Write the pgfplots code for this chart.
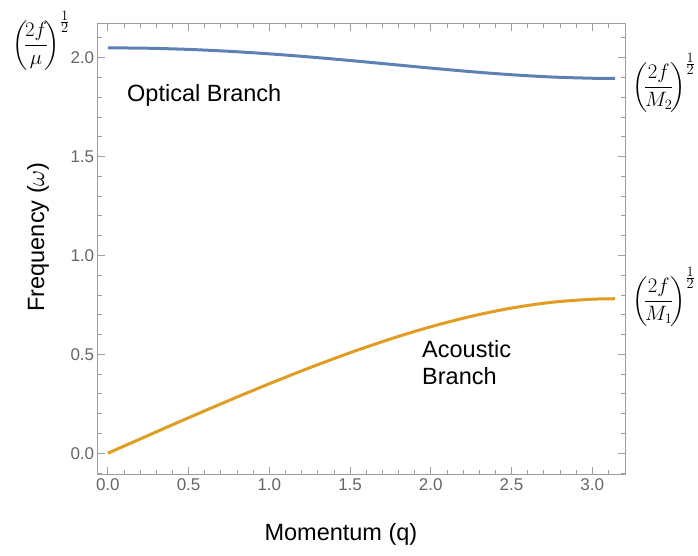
\documentclass[border=0pt]{standalone}
\usepackage{amsmath}
\usepackage{fontspec}
\setmainfont{Liberation Sans}
\usepackage{pgfplots}
\pgfplotsset{compat=1.18}
\definecolor{mblue}{rgb}{0.368417,0.506779,0.709798}
\definecolor{morange}{rgb}{0.880722,0.611041,0.142051}
\definecolor{framegray}{gray}{0.62}
\definecolor{labelgray}{gray}{0.4}
\newcommand{\half}{\frac{\scriptstyle 1}{\scriptstyle 2}}
\begin{document}
\begin{tikzpicture}[x=1pt,y=1pt]
\useasboundingbox (0,0) rectangle (698,556);
\begin{axis}[
  at={(97.7pt,81pt)}, anchor=south west,
  scale only axis, width=527.6pt, height=451pt,
  xmin=-0.0628, xmax=3.2044, ymin=-0.11, ymax=2.17,
  axis line style={framegray, line width=1pt},
  xtick={0,0.5,1,1.5,2,2.5,3}, ytick={0,0.5,1,1.5,2},
  minor xtick={0.1,0.2,0.3,0.4,0.6,0.7,0.8,0.9,1.1,1.2,1.3,1.4,1.6,1.7,1.8,1.9,2.1,2.2,2.3,2.4,2.6,2.7,2.8,2.9,3.1},
  minor ytick={-0.1,0.1,0.2,0.3,0.4,0.6,0.7,0.8,0.9,1.1,1.2,1.3,1.4,1.6,1.7,1.8,1.9,2.1},
  tick align=inside,
  major tick length=7.5pt, minor tick length=4.5pt,
  every tick/.style={framegray, line width=0.8pt},
  every minor tick/.style={framegray, line width=0.8pt},
  tick label style={font=\fontsize{17}{20}\selectfont, text=labelgray},
  xticklabel style={/pgf/number format/fixed, /pgf/number format/fixed zerofill, /pgf/number format/precision=1},
  yticklabel style={/pgf/number format/fixed, /pgf/number format/fixed zerofill, /pgf/number format/precision=1},
  /pgf/number format/assume math mode=true,
  xlabel={Momentum (q)}, ylabel={Frequency ($\omega$)},
  label style={font=\fontsize{23.5}{28}\selectfont},
  xlabel style={at={(axis description cs:0.461,-0.131)}, anchor=center},
  ylabel style={at={(axis description cs:-0.113,0.528)}, anchor=center},
]
\addplot[mblue, line width=3pt, smooth] coordinates {
(0,2.04939) (0.25,2.04741) (0.5,2.04153) (0.75,2.03196) (1.0,2.01904)
(1.25,2.00330) (1.5,1.98542) (1.75,1.96630) (2.0,1.94704) (2.25,1.92896)
(2.5,1.91347) (2.75,1.90196) (3.0,1.89570) (3.14159,1.89473)};
\addplot[morange, line width=3pt, smooth] coordinates {
(0,0) (0.25,0.0901) (0.5,0.17934) (0.75,0.26675) (1.0,0.35139)
(1.25,0.43221) (1.5,0.50806) (1.75,0.57765) (2.0,0.63955) (2.25,0.69219)
(2.5,0.73392) (2.75,0.76325) (3.0,0.77867) (3.14159,0.78102)};
\end{axis}
\node[anchor=base west, inner sep=0, font=\fontsize{23.5}{28}\selectfont] at (127,454) {Optical Branch};
\node[anchor=base west, inner sep=0, font=\fontsize{23.5}{28}\selectfont] at (422,198) {Acoustic};
\node[anchor=base west, inner sep=0, font=\fontsize{23.5}{28}\selectfont] at (422,171) {Branch};
\node[anchor=base west, inner sep=0, font=\fontsize{20.74}{26}\selectfont] at (12,505.5) {$\left(\!\dfrac{2f}{\mu}\!\right)^{\half}$};
\node[anchor=base west, inner sep=0, font=\fontsize{20.74}{26}\selectfont] at (632,463.5) {$\left(\!\dfrac{2f}{M_2}\!\right)^{\half}$};
\node[anchor=base west, inner sep=0, font=\fontsize{20.74}{26}\selectfont] at (632,249.5) {$\left(\!\dfrac{2f}{M_1}\!\right)^{\half}$};
\end{tikzpicture}
\end{document}
